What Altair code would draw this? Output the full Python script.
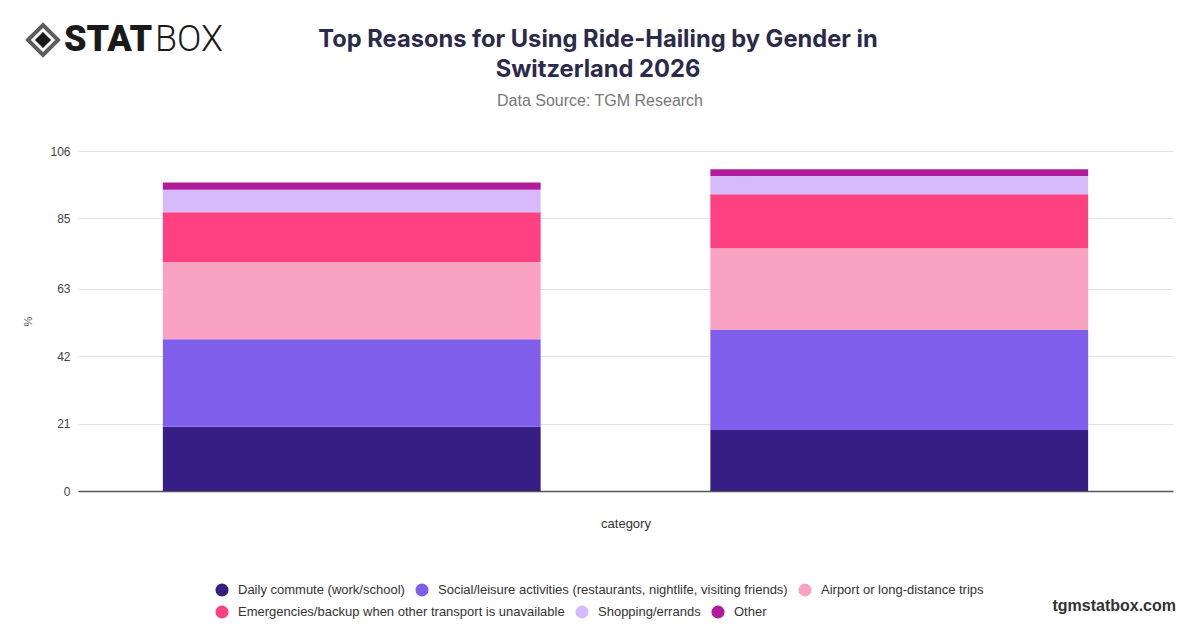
import altair as alt
import pandas as pd

categories = ["Male", "Female"]
series = [
    "Daily commute (work/school)",
    "Social/leisure activities (restaurants, nightlife, visiting friends)",
    "Airport or long-distance trips",
    "Emergencies/backup when other transport is unavailable",
    "Shopping/errands",
    "Other",
]
colors = ["#371E84", "#7F5EEC", "#FAA2C2", "#FF4081", "#D6BAFA", "#B01C9C"]
male_values = [20.0, 27.3, 24.1, 15.5, 7.0, 2.3]
female_values = [19.0, 31.2, 25.5, 16.8, 5.7, 2.1]
y_ticks = [0, 21, 42, 63, 85, 106]
title_lines = ["Top Reasons for Using Ride-Hailing by Gender in", "Switzerland 2026"]
subtitle = "Data Source: TGM Research"

rows = []
for cat, vals in zip(categories, [male_values, female_values]):
    for i, (s, v) in enumerate(zip(series, vals)):
        rows.append({"category": cat, "series": s, "value": v, "order": i})
df = pd.DataFrame(rows)

base = alt.Chart(df).transform_stack(
    stack="value",
    groupby=["category"],
    as_=["y0", "y1"],
    sort=[alt.SortField("order", order="ascending")],
)

x_enc = alt.X(
    "category:N",
    sort=categories,
    title="category",
    scale=alt.Scale(paddingInner=0.31, paddingOuter=0.155),
    axis=alt.Axis(labels=False, ticks=False, domain=True, domainColor="#555555",
                  domainWidth=1.5, titleFontSize=13, titleFontWeight="normal",
                  titleColor="#333333", titleFont="Liberation Sans", titlePadding=26),
)
y_enc = alt.Y(
    "y0:Q",
    title="%",
    scale=alt.Scale(domain=[0, 106], nice=False),
    axis=alt.Axis(values=y_ticks, ticks=False, domain=False, labelPadding=8,
                  labelFontSize=12, labelColor="#444444", labelFont="Liberation Sans",
                  gridColor="#E2E2E2", titleFontSize=11, titleFontWeight="normal",
                  titleColor="#555555", titlePadding=16),
)

legend_common = dict(
    title=None, orient="none", direction="horizontal", symbolType="circle",
    symbolSize=170, symbolStrokeWidth=0, labelFontSize=13, labelColor="#333333",
    labelFont="Liberation Sans", columnPadding=10, labelOffset=9, labelLimit=800,
)

layer_a = base.transform_filter("datum.order < 3").mark_bar().encode(
    x=x_enc,
    y=y_enc,
    y2="y1:Q",
    color=alt.Color("series:N", sort=series[:3],
                    scale=alt.Scale(domain=series[:3], range=colors[:3]),
                    legend=alt.Legend(legendX=137, legendY=432, **legend_common)),
)
layer_b = base.transform_filter("datum.order >= 3").mark_bar().encode(
    x=x_enc,
    y=y_enc,
    y2="y1:Q",
    color=alt.Color("series:N", sort=series[3:],
                    scale=alt.Scale(domain=series[3:], range=colors[3:]),
                    legend=alt.Legend(legendX=137, legendY=454, **legend_common)),
)

deco = pd.DataFrame({"t": ["x"]})
site = alt.Chart(deco).mark_text(
    text="tgmstatbox.com", font="Liberation Sans", fontSize=16, fontWeight="bold",
    color="#333333", align="right", baseline="middle",
).encode(x=alt.value(1098), y=alt.value(455))

title1 = alt.Chart(deco).mark_text(
    text=title_lines[0], font="Inter", fontSize=23.7, fontWeight="bold", color="#2C2A4A",
    align="center", baseline="middle",
).encode(x=alt.value(520), y=alt.value(-111))
title2 = alt.Chart(deco).mark_text(
    text=title_lines[1], font="Inter", fontSize=23.7, fontWeight="bold", color="#2C2A4A",
    align="center", baseline="middle",
).encode(x=alt.value(520), y=alt.value(-81))
sub = alt.Chart(deco).mark_text(
    text=subtitle, font="Liberation Sans", fontSize=16, color="#777777",
    align="center", baseline="middle",
).encode(x=alt.value(522), y=alt.value(-50))

logo_outer = alt.Chart(deco).mark_point(
    shape="diamond", filled=False, stroke="#1a1a1a", strokeWidth=4, size=900,
).encode(x=alt.value(-35), y=alt.value(-111))
logo_inner = alt.Chart(deco).mark_point(
    shape="diamond", filled=True, fill="#1a1a1a", strokeWidth=0, size=260, opacity=1,
).encode(x=alt.value(-35), y=alt.value(-111))
logo_stat = alt.Chart(deco).mark_text(
    text="STAT", font="Roboto", fontSize=36, fontWeight=900, color="#1a1a1a",
    align="left", baseline="middle",
).encode(x=alt.value(-14), y=alt.value(-111))
logo_box = alt.Chart(deco).mark_text(
    text="BOX", font="Roboto", fontSize=36, fontWeight=300, color="#1a1a1a",
    align="left", baseline="middle",
).encode(x=alt.value(77), y=alt.value(-111))

chart = alt.layer(
    layer_a, layer_b, site, title1, title2, sub,
    logo_outer, logo_inner, logo_stat, logo_box,
).resolve_scale(
    color="independent"
).properties(
    width=1095,
    height=340,
    autosize=alt.AutoSizeParams(type="none"),
    padding={"left": 70, "top": 143, "right": 19, "bottom": 129},
).configure_view(stroke=None)

chart.save("out.html", embed_options={"renderer": "svg", "actions": False})
